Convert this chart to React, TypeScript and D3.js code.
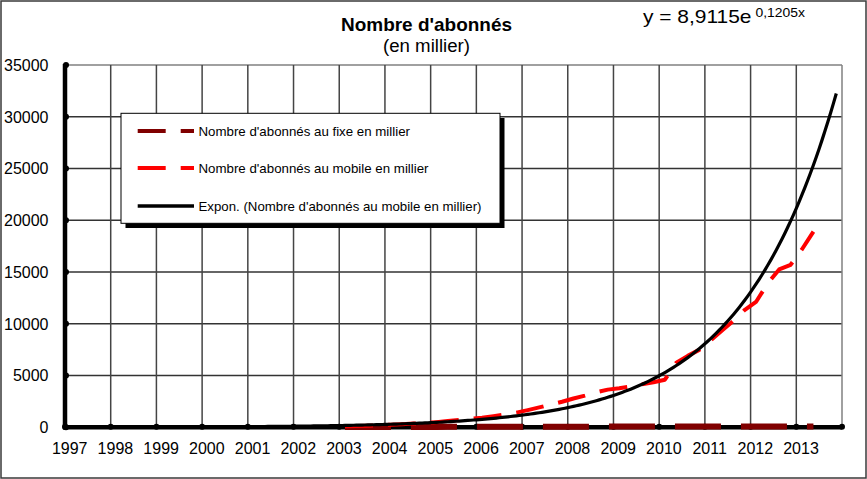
import React from 'react';
import * as d3 from 'd3';

const W = 867;
const H = 479;

const years = ['1997','1998','1999','2000','2001','2002','2003','2004','2005','2006','2007','2008','2009','2010','2011','2012','2013'];
const quartersPerYear = 4;
const totalQuarters = 68;
const firstDataQuarter = 25; // 2003 T1

// Nombre d'abonnés au mobile (milliers), par trimestre à partir de 2003 T1
const mobile = [100,130,160,200,250,300,360,420,500,600,700,810,930,1080,1250,1420,1660,1920,2200,2470,2780,3060,3380,3640,3780,3950,4150,4350,4600,6250,6900,7480,8400,9350,10300,11350,12150,13900,15250,15700,17200,18900];
// Nombre d'abonnés au fixe (milliers)
const fixe = [20,22,25,28,30,32,35,38,40,42,45,48,50,52,55,58,60,60,62,62,64,64,65,66,66,67,68,68,69,70,70,71,72,72,73,74,74,75,76,76,77,78];

const yTicks = [0,5000,10000,15000,20000,25000,30000,35000];
const trendA = 8.9115;
const trendB = 0.1205;

const title = "Nombre d'abonnés";
const subtitle = '(en millier)';
const eqMain = 'y = 8,9115e';
const eqSup = '0,1205x';
const legendLabels = [
  "Nombre d'abonnés au fixe en millier",
  "Nombre d'abonnés au mobile en millier",
  "Expon. (Nombre d'abonnés au mobile en millier)",
];

const FONT = "'Liberation Sans', Arial, sans-serif";

export default function App() {
  const left = 65, right = 842, top = 65, bottom = 427.3;
  const x = d3.scaleLinear().domain([0.5, totalQuarters + 0.5]).range([left, right]);
  const y = d3.scaleLinear().domain([0, 35000]).range([bottom, top]);

  const gridQ = d3.range(0, years.length + 1).map(k => 0.5 + k * quartersPerYear);

  const mobilePts = mobile.map((v, k) => [firstDataQuarter + k, v] as [number, number]);
  const fixePts = fixe.map((v, k) => [firstDataQuarter + k, v] as [number, number]);
  const line = d3.line<[number, number]>().x(d => x(d[0])).y(d => y(d[1]));
  const trendPts = d3.range(1, totalQuarters + 0.001, 0.25).map(q => [q, trendA * Math.exp(trendB * q)] as [number, number]);

  const legendColors = ['#800000', '#ff0000', '#000000'];
  const legendDash = ['28,15', '28,15', null];
  const legRows = [131, 168, 206];
  const legendTextLen = [211.5, 230, 283];

  return (
    <svg width={W} height={H} style={{ position: 'absolute', left: 0, top: 0, background: '#fff' }} fontFamily={FONT}>
      <rect x={0} y={0} width={W} height={H} fill="#fff" />
      <rect x={1} y={1} width={W - 2} height={H - 2} fill="none" stroke="#3a3a3a" strokeWidth={1.5} />

      {/* horizontal gridlines */}
      {yTicks.map(t => (
        <line key={'h' + t} x1={left} x2={right} y1={y(t)} y2={y(t)} stroke={t === 35000 ? '#808080' : '#333'} strokeWidth={1.5} />
      ))}
      {/* vertical gridlines */}
      {gridQ.map(q => (
        <line key={'v' + q} x1={x(q)} x2={x(q)} y1={top} y2={bottom} stroke={q === totalQuarters + 0.5 ? '#808080' : '#444'} strokeWidth={1.5} />
      ))}

      {/* axes */}
      <line x1={left} x2={left} y1={top - 1} y2={bottom + 2} stroke="#000" strokeWidth={4.5} />
      <line x1={left - 2} x2={right} y1={bottom} y2={bottom} stroke="#000" strokeWidth={4.5} />
      {yTicks.map(t => <circle key={'yt' + t} cx={left + 1} cy={y(t)} r={3} fill="#000" />)}
      {gridQ.map(q => <circle key={'xt' + q} cx={x(q)} cy={bottom - 0.5} r={3} fill="#000" />)}

      {/* y labels */}
      {yTicks.map(t => (
        <text key={'yl' + t} x={48.5} y={y(t) + 5.8} textAnchor="end" fontSize={16} fill="#000">{String(t)}</text>
      ))}
      {/* x labels */}
      {years.map((yr, k) => (
        <text key={'xl' + yr} x={x(1 + k * quartersPerYear) - 1} y={454} textAnchor="middle" fontSize={16} fill="#000">{yr}</text>
      ))}

      {/* series */}
      <path d={line(fixePts) || ''} fill="none" stroke="#800000" strokeWidth={6} strokeDasharray="46,20" />
      <path d={line(mobilePts) || ''} fill="none" stroke="#ff0000" strokeWidth={4} strokeDasharray="28,15" strokeLinejoin="round" />
      <path d={line(trendPts) || ''} fill="none" stroke="#000" strokeWidth={3.2} />

      {/* title */}
      <text x={426.5} y={30.7} textAnchor="middle" fontSize={19} fontWeight="bold" textLength={171} lengthAdjust="spacingAndGlyphs">{title}</text>
      <text x={426.5} y={52} textAnchor="middle" fontSize={17.5} textLength={87} lengthAdjust="spacingAndGlyphs">{subtitle}</text>

      {/* equation */}
      <text x={643} y={23.3} fontSize={19} textLength={108.5} lengthAdjust="spacingAndGlyphs">{eqMain}</text>
      <text x={755.5} y={16.8} fontSize={12.5} textLength={49.5} lengthAdjust="spacingAndGlyphs">{eqSup}</text>

      {/* legend */}
      <rect x={125.5} y={118} width={379} height={110} fill="#000" />
      <rect x={121} y={113.3} width={379} height={110} fill="#fff" stroke="#000" strokeWidth={1} />
      {legendLabels.map((lab, k) => (
        <g key={'lg' + k}>
          <line x1={137.7} x2={194} y1={legRows[k]} y2={legRows[k]} stroke={legendColors[k]} strokeWidth={k === 2 ? 3.5 : 4} strokeDasharray={legendDash[k] || undefined} />
          <text x={198.5} y={legRows[k] + 5} fontSize={13.5} textLength={legendTextLen[k]} lengthAdjust="spacingAndGlyphs">{lab}</text>
        </g>
      ))}
    </svg>
  );
}
